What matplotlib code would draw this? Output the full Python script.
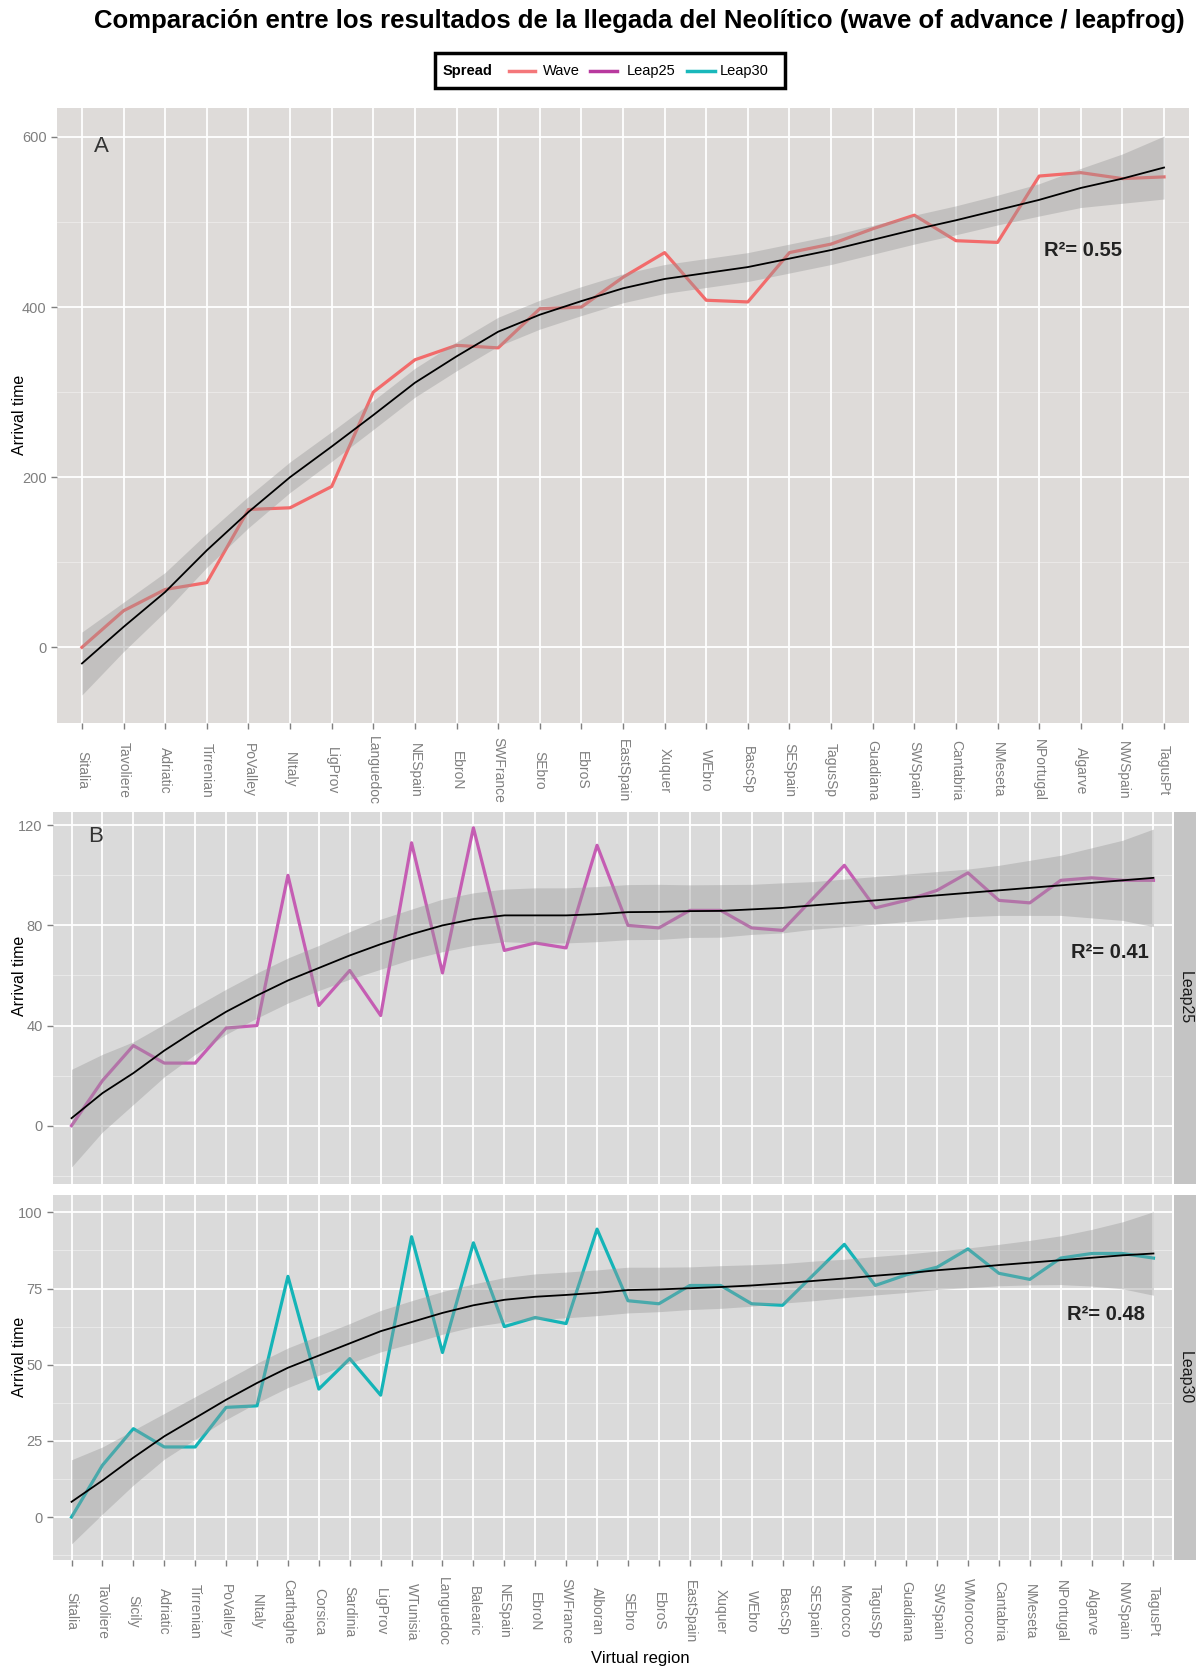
import numpy as np
import matplotlib
matplotlib.use('Agg')
import matplotlib.pyplot as plt
from matplotlib.patches import Rectangle
from matplotlib.lines import Line2D

# Panel A: wave of advance
regions_a = ['Sitalia', 'Tavoliere', 'Adriatic', 'Tirrenian', 'PoValley', 'NItaly', 'LigProv',
             'Languedoc', 'NESpain', 'EbroN', 'SWFrance', 'SEbro', 'EbroS', 'EastSpain', 'Xuquer',
             'WEbro', 'BascSp', 'SESpain', 'TagusSp', 'Guadiana', 'SWSpain', 'Cantabria', 'NMeseta',
             'NPortugal', 'Algarve', 'NWSpain', 'TagusPt']
wave = [0, 43, 68, 76, 162, 164, 189, 300, 338, 355, 352, 398, 400, 435, 464, 408, 406,
        464, 474, 492, 508, 478, 476, 554, 558, 551, 553]
wave_fit = [-19, 24, 65, 114, 159, 200, 236, 273, 311, 342, 371, 391, 407, 422, 433, 440, 447,
            457, 467, 479, 491, 502, 514, 526, 540, 551, 564]
wave_se = [37, 29, 23, 20, 18.5, 18, 17.5, 17, 17, 17, 17, 17, 17, 17, 17, 17, 17,
           17, 17, 17, 17, 17, 17.5, 19, 23, 29, 37]

# Panels B and C: leapfrog
regions_bc = ['Sitalia', 'Tavoliere', 'Sicily', 'Adriatic', 'Tirrenian', 'PoValley', 'NItaly',
              'Carthaghe', 'Corsica', 'Sardinia', 'LigProv', 'WTunisia', 'Languedoc', 'Balearic',
              'NESpain', 'EbroN', 'SWFrance', 'Alboran', 'SEbro', 'EbroS', 'EastSpain', 'Xuquer',
              'WEbro', 'BascSp', 'SESpain', 'Morocco', 'TagusSp', 'Guadiana', 'SWSpain', 'WMorocco',
              'Cantabria', 'NMeseta', 'NPortugal', 'Algarve', 'NWSpain', 'TagusPt']
leap25 = [0, 18, 32, 25, 25, 39, 40, 100, 48, 62, 44, 113, 61, 119, 70, 73, 71, 112,
          80, 79, 86, 86, 79, 78, 91, 104, 87, 90, 94, 101, 90, 89, 98, 99, 98, 98]
leap25_fit = [3, 13, 21, 30, 38, 45.5, 52, 58, 63, 68, 72.5, 76.5, 80, 82.5, 84, 84, 84, 84.5,
              85.3, 85.4, 85.7, 85.8, 86.4, 87, 88, 89, 90, 91, 92, 93, 94, 95, 96, 97, 98, 99]
leap25_se = [19.5, 15.5, 12.5, 10.5, 9.5, 9, 9, 9, 9, 9.5, 10, 10, 10.5, 10.5, 10.5, 11, 11, 11,
             11, 11, 10.5, 10.5, 10, 10, 9.5, 9.5, 9.5, 9.5, 9.5, 9.5, 10, 11, 12, 14, 16, 19.5]
leap30 = [0, 17, 29, 23, 23, 36, 36.5, 79, 42, 52, 40, 92, 54, 90, 62.5, 65.5, 63.5, 94.5,
          71, 70, 76, 76, 70, 69.5, 79.5, 89.5, 76, 79.5, 82, 88, 80, 78, 85, 86.5, 86.5, 85]
leap30_fit = [5, 12, 19.5, 26.5, 32.5, 38.5, 44, 49, 53, 57, 61, 64, 67, 69.5, 71.3, 72.3, 72.9, 73.6,
              74.5, 74.7, 75.1, 75.5, 76, 76.7, 77.5, 78.3, 79.2, 80, 81, 81.8, 82.7, 83.5, 84.3, 85.1, 85.9, 86.5]
leap30_se = [13.8, 11, 9, 7.5, 7, 6.5, 6.5, 6.5, 6.5, 6.5, 6.8, 7, 7, 7, 7.3, 7.5, 7.5, 7.5,
             7.5, 7.3, 7, 7, 6.8, 6.5, 6.5, 6.3, 6.3, 6.3, 6.3, 6.5, 6.8, 7.3, 8, 9.3, 11, 13.7]

colors = {'Wave': '#F26B6B', 'Leap25': '#C55DB3', 'Leap30': '#14B4B7'}
legend_colors = {'Wave': '#F4777A', 'Leap25': '#B8399E', 'Leap30': '#19B8BB'}

plt.rcParams['font.family'] = ['Liberation Sans', 'DejaVu Sans']

W, H = 1200, 1670
fig = plt.figure(figsize=(W / 100, H / 100), dpi=100)


def fx(px):
    return px / W


def fy(py):
    return 1 - py / H


def panel(rect, regions, values, fit, se, color, ylim, yticks, yminor, bg, xlabels, pad=30):
    l, t, r, b = rect
    ax = fig.add_axes([fx(l), fy(b), (r - l) / W, (b - t) / H])
    x = np.arange(len(regions))
    fit = np.asarray(fit)
    se = np.asarray(se)
    ax.set_facecolor(bg)
    ax.plot(x, values, color=color, lw=2.3, zorder=2)
    ax.fill_between(x, fit - se, fit + se, color='#999999', alpha=0.4, lw=0, zorder=3)
    ax.plot(x, fit, color='black', lw=1.3, zorder=4)
    ax.set_xlim(-0.6, len(regions) - 0.4)
    ax.set_ylim(*ylim)
    ax.set_yticks(yticks)
    ax.set_yticks(yminor, minor=True)
    ax.set_xticks(x)
    ax.set_axisbelow(True)
    ax.grid(which='major', color='white', lw=1.3)
    ax.grid(which='minor', axis='y', color='white', lw=0.6, alpha=0.45)
    for s in ax.spines.values():
        s.set_visible(False)
    ax.tick_params(which='major', color='#7f7f7f', length=4, width=1,
                   labelcolor='#7f7f7f', labelsize=10.5)
    ax.tick_params(which='minor', length=0)
    if xlabels:
        ax.set_xticklabels(regions, rotation=-90, va='center', ha='center', fontsize=10)
        ax.tick_params(axis='x', pad=pad)
    else:
        ax.tick_params(axis='x', length=0, labelbottom=False)
    return ax


def strip(rect, label):
    l, t, r, b = rect
    sx = fig.add_axes([fx(l), fy(b), (r - l) / W, (b - t) / H])
    sx.set_facecolor('#C4C4C4')
    sx.set_xticks([])
    sx.set_yticks([])
    for s in sx.spines.values():
        s.set_visible(False)
    sx.text(0.5, 0.5, label, rotation=-90, ha='center', va='center',
            fontsize=11.5, color='#1a1a1a', transform=sx.transAxes)


# Panel A
panel((57, 108, 1189, 723), regions_a, wave, wave_fit, wave_se, colors['Wave'],
      (-89, 634), [0, 200, 400, 600], [100, 300, 500], '#DEDBD9', True, pad=30)

# Panel B
panel((53, 812, 1172, 1184), regions_bc, leap25, leap25_fit, leap25_se, colors['Leap25'],
      (-23.3, 125.3), [0, 40, 80, 120], [-20, 20, 60, 100], '#DADADA', False)
strip((1174, 812, 1196, 1184), 'Leap25')

# Panel C
panel((53, 1195, 1172, 1560), regions_bc, leap30, leap30_fit, leap30_se, colors['Leap30'],
      (-14.1, 105.7), [0, 25, 50, 75, 100], [-12.5, 12.5, 37.5, 62.5, 87.5], '#DADADA', True, pad=33)
strip((1174, 1195, 1196, 1560), 'Leap30')

# Title
fig.text(fx(639), fy(21), 'Comparación entre los resultados de la llegada del Neolítico (wave of advance / leapfrog)',
         ha='center', va='center', fontsize=18.5, fontweight='bold')

# Legend
fig.add_artist(Rectangle((fx(435), fy(88)), 350 / W, 35 / H, transform=fig.transFigure,
                         fill=False, ec='black', lw=2.5))
fig.text(fx(443), fy(71), 'Spread', ha='left', va='center', fontsize=10.5, fontweight='bold')
for name, x0, x1, tx in [('Wave', 509, 535, 543), ('Leap25', 590, 617, 627), ('Leap30', 687, 715, 720)]:
    fig.add_artist(Line2D([fx(x0), fx(x1)], [fy(71), fy(71)], color=legend_colors[name], lw=2.5,
                          transform=fig.transFigure))
    fig.text(fx(tx), fy(71), name, ha='left', va='center', fontsize=10.5)

# Axis titles
for yc in [415, 976, 1357]:
    fig.text(fx(20), fy(yc), 'Arrival time', rotation=90, ha='center', va='center', fontsize=11.5)
fig.text(fx(640), fy(1659), 'Virtual region', ha='center', va='center', fontsize=12)

# Panel letters and R2
fig.text(fx(101), fy(147), 'A', ha='center', va='center', fontsize=16, color='#333333')
fig.text(fx(96), fy(837), 'B', ha='center', va='center', fontsize=16, color='#333333')
for xc, yc, r2 in [(1083, 250, '0.55'), (1110, 953, '0.41'), (1106, 1315, '0.48')]:
    fig.text(fx(xc), fy(yc), 'R²= ' + r2, ha='center', va='center', fontsize=14.5,
             fontweight='bold', color='#222222')

fig.savefig('out.png', dpi=100)
